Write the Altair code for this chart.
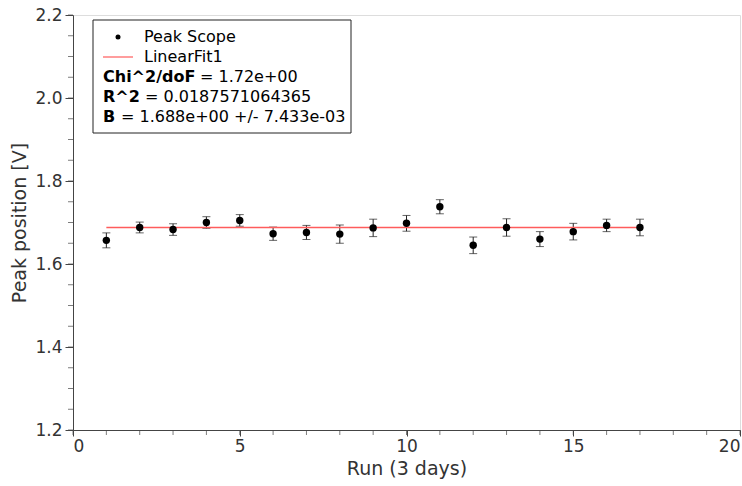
import altair as alt
import pandas as pd

# Peak position per run, with uncertainties
runs = list(range(1, 18))
peak = [1.657, 1.688, 1.683, 1.700, 1.705, 1.673, 1.676, 1.672, 1.687,
        1.698, 1.738, 1.645, 1.688, 1.660, 1.678, 1.693, 1.688]
err = [0.018, 0.013, 0.014, 0.014, 0.014, 0.016, 0.017, 0.022, 0.021,
       0.019, 0.017, 0.020, 0.021, 0.018, 0.020, 0.015, 0.020]

# Constant fit B
fit_x = [1, 17]
fit_y = [1.688, 1.688]

x_minor_vals = list(range(0, 21))
y_minor_vals = [round(1.2 + 0.05 * i, 2) for i in range(21)]

FONT = "DejaVu Sans"
W, H = 667, 415

df = pd.DataFrame({"run": runs, "peak": peak, "err": err})
df["lo"] = df["peak"] - df["err"]
df["hi"] = df["peak"] + df["err"]
fit = pd.DataFrame({"x": fit_x, "y": fit_y})

xs = alt.Scale(domain=[0, 20], nice=False)
ys = alt.Scale(domain=[1.2, 2.2], nice=False, zero=False)

x_axis = alt.Axis(title="Run (3 days)", values=[0, 5, 10, 15, 20], format="d",
                  grid=False, domain=True, domainColor="#444", tickColor="#444",
                  tickSize=6, labelFontSize=17, titleFontSize=19,
                  labelColor="#333", titleColor="#333", labelFont=FONT, titleFont=FONT,
                  labelPadding=2, titlePadding=5, titleFontWeight="normal")
y_axis = alt.Axis(title="Peak position [V]", values=[1.2, 1.4, 1.6, 1.8, 2.0, 2.2],
                  format=".1f", grid=False, domain=True, domainColor="#444",
                  tickColor="#444", tickSize=8, labelFontSize=17, titleFontSize=19,
                  labelColor="#333", titleColor="#333", labelFont=FONT, titleFont=FONT,
                  labelPadding=3, titlePadding=5, titleFontWeight="normal")

bars = alt.Chart(df).mark_rule(color="#222", strokeWidth=1).encode(
    x=alt.X("run:Q", scale=xs, axis=x_axis),
    y=alt.Y("lo:Q", scale=ys, axis=y_axis),
    y2="hi:Q",
)
caps_lo = alt.Chart(df).mark_tick(color="#222", thickness=1, size=8, orient="horizontal").encode(
    x="run:Q", y="lo:Q")
caps_hi = alt.Chart(df).mark_tick(color="#222", thickness=1, size=8, orient="horizontal").encode(
    x="run:Q", y="hi:Q")

line = alt.Chart(fit).mark_line(color="#ff5c5c", strokeWidth=1.5).encode(
    x="x:Q", y="y:Q")

points = alt.Chart(df).mark_circle(color="black", size=55, opacity=1).encode(
    x="run:Q", y="peak:Q")

# minor ticks on both axes
x_minor = alt.Chart(pd.DataFrame({"run": x_minor_vals})).mark_tick(
    color="#444", thickness=1, size=5, yOffset=2.5
).encode(x="run:Q", y=alt.value(H))

y_minor = alt.Chart(pd.DataFrame({"lo": y_minor_vals})).mark_tick(
    color="#444", thickness=1, size=5, xOffset=-2.5
).encode(y="lo:Q", x=alt.value(0))

# Legend box with fit results
BOX_L, BOX_R = 20, 278
box = alt.Chart(pd.DataFrame({"a": [0]})).mark_rect(
    fill="white", stroke="#222", strokeWidth=1
).encode(x=alt.value(BOX_L), x2=alt.value(BOX_R), y=alt.value(5), y2=alt.value(118))

leg_dot = alt.Chart(pd.DataFrame({"a": [0]})).mark_circle(color="black", size=25, opacity=1).encode(
    x=alt.value(45), y=alt.value(22))
leg_line = alt.Chart(pd.DataFrame({"a": [0]})).mark_rule(color="#ff5c5c", strokeWidth=1.2).encode(
    x=alt.value(30), x2=alt.value(60), y=alt.value(42))

def txt(s, x, y, bold=False):
    return alt.Chart(pd.DataFrame({"t": [s]})).mark_text(
        align="left", baseline="middle", font=FONT, fontSize=16,
        fontWeight="bold" if bold else "normal", color="black"
    ).encode(text="t:N", x=alt.value(x), y=alt.value(y))

TX = 30
texts = [
    txt("Peak Scope", 71, 22),
    txt("LinearFit1", 71, 42),
    txt("Chi^2/doF", TX, 62, True),
    txt("= 1.72e+00", TX + 97, 62),
    txt("R^2", TX, 82, True),
    txt("= 0.0187571064365", TX + 42, 82),
    txt("B", TX, 102, True),
    txt("= 1.688e+00 +/- 7.433e-03", TX + 18, 102),
]

chart = alt.layer(
    bars, caps_lo, caps_hi, line, points, x_minor, y_minor, box, leg_dot, leg_line, *texts
).resolve_scale(x="shared", y="shared").properties(
    width=W, height=H,
    autosize=alt.AutoSizeParams(type="none"),
    padding={"left": 73, "top": 15, "right": 2, "bottom": 56},
).configure_view(stroke="#444", strokeWidth=1).configure(background="white")

chart.save("out.html", embed_options={"renderer": "svg", "actions": False})
